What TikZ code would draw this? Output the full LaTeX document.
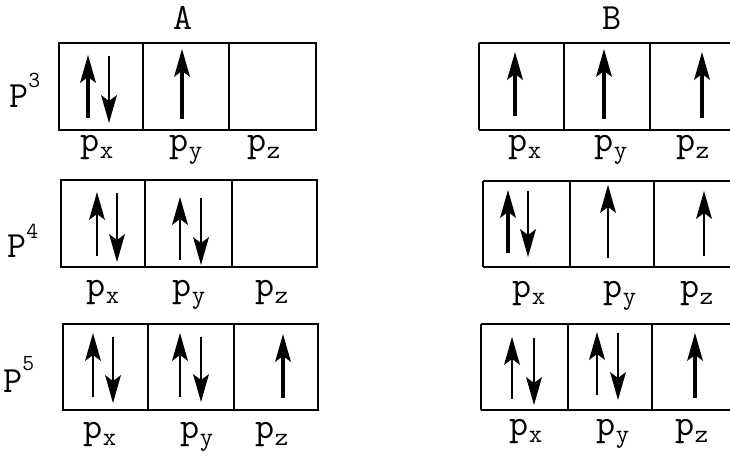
\documentclass[tikz,border=0pt]{standalone}
\usetikzlibrary{arrows.meta}
\newcommand\orb[1]{p\raisebox{-7pt}{\fontsize{26}{26}\selectfont #1}}
\newcommand\lev[2]{P\raisebox{#2}{\fontsize{23}{23}\selectfont #1}}
\begin{document}
\begin{tikzpicture}[x=1pt,y=-1pt,
  box/.style={line width=1.8pt,line join=miter},
  tip/.style={-{Stealth[length=28pt,width=16pt,inset=6pt,line width=0pt]}},
  thk/.style={tip,line width=4.4pt},
  thn/.style={tip,line width=1.8pt},
  lab/.style={anchor=base,inner sep=0pt,font=\ttfamily\fontsize{37}{40}\selectfont}]
\clip (0,0) rectangle (730,455);
\fill[white] (0,0) rectangle (730,455);
% headings
\node[lab] (hA) at (183,29) {A};
\node[lab] (hB) at (612,29) {B};
% level labels
\node[lab,anchor=base west] (l3) at (9,107) {\lev{3}{20pt}};
\node[lab,anchor=base west] (l4) at (7,257) {\lev{4}{19pt}};
\node[lab,anchor=base west] (l5) at (3,392) {\lev{5}{22pt}};
% boxes
\draw[box] (59,43) rectangle (316,130) (143,43) -- (143,130) (229,43) -- (229,130);
\draw[box] (479,43) -- (745,43) (479,130) -- (745,130) (479,43) -- (479,130) (564,43) -- (564,130) (650,43) -- (650,130);
\draw[box] (61,180) rectangle (317,267) (145,180) -- (145,267) (232,180) -- (232,267);
\draw[box] (483,181) -- (745,181) (483,267) -- (745,267) (483,181) -- (483,267) (570,181) -- (570,267) (654,181) -- (654,267);
\draw[box] (63,324) rectangle (318,410) (148,324) -- (148,410) (234,324) -- (234,410);
\draw[box] (481,324) -- (745,324) (481,410) -- (745,410) (481,324) -- (481,410) (568,324) -- (568,410) (652,324) -- (652,410);
% orbital labels
\node[lab] (a1x) at (97,151) {\orb{x}};
\node[lab] (a1y) at (186,151) {\orb{y}};
\node[lab] (a1z) at (264,151) {\orb{z}};
\node[lab] (b1x) at (525,151) {\orb{x}};
\node[lab] (b1y) at (611,151) {\orb{y}};
\node[lab] (b1z) at (693,151) {\orb{z}};
\node[lab] (a2x) at (103,296) {\orb{x}};
\node[lab] (a2y) at (189,296) {\orb{y}};
\node[lab] (a2z) at (272,296) {\orb{z}};
\node[lab] (b2x) at (529,297) {\orb{x}};
\node[lab] (b2y) at (620,297) {\orb{y}};
\node[lab] (b2z) at (697,297) {\orb{z}};
\node[lab] (a3x) at (100,438) {\orb{x}};
\node[lab] (a3y) at (197,438) {\orb{y}};
\node[lab] (a3z) at (272,438) {\orb{z}};
\node[lab] (b3x) at (526,435) {\orb{x}};
\node[lab] (b3y) at (613,435) {\orb{y}};
\node[lab] (b3z) at (692,435) {\orb{z}};
% electrons, row 1
\draw[thk] (88,118) -- (88,55);
\draw[thn] (109,56) -- (109,123);
\draw[thk] (182,119) -- (182,49);
\draw[thk] (515,116) -- (515,52);
\draw[thk] (604,119) -- (604,49);
\draw[thk] (702,118) -- (702,52);
% row 2
\draw[thn] (97,256) -- (97,192);
\draw[thn] (117,193) -- (117,262);
\draw[thn] (180,260) -- (180,197);
\draw[thn] (201,198) -- (201,265);
\draw[thk] (508,253) -- (508,190);
\draw[thn] (528,191) -- (528,257);
\draw[thn] (608,258) -- (608,185);
\draw[thn] (704,256) -- (704,191);
% row 3
\draw[thn] (93,397) -- (93,333);
\draw[thn] (113,337) -- (113,403);
\draw[thn] (180,397) -- (180,333);
\draw[thn] (201,337) -- (201,402);
\draw[thk] (283,398) -- (283,334);
\draw[thn] (512,399) -- (512,337);
\draw[thn] (534,338) -- (534,405);
\draw[thn] (597,395) -- (597,332);
\draw[thn] (618,333) -- (618,400);
\draw[thk] (695,398) -- (695,333);
\end{tikzpicture}
\end{document}
